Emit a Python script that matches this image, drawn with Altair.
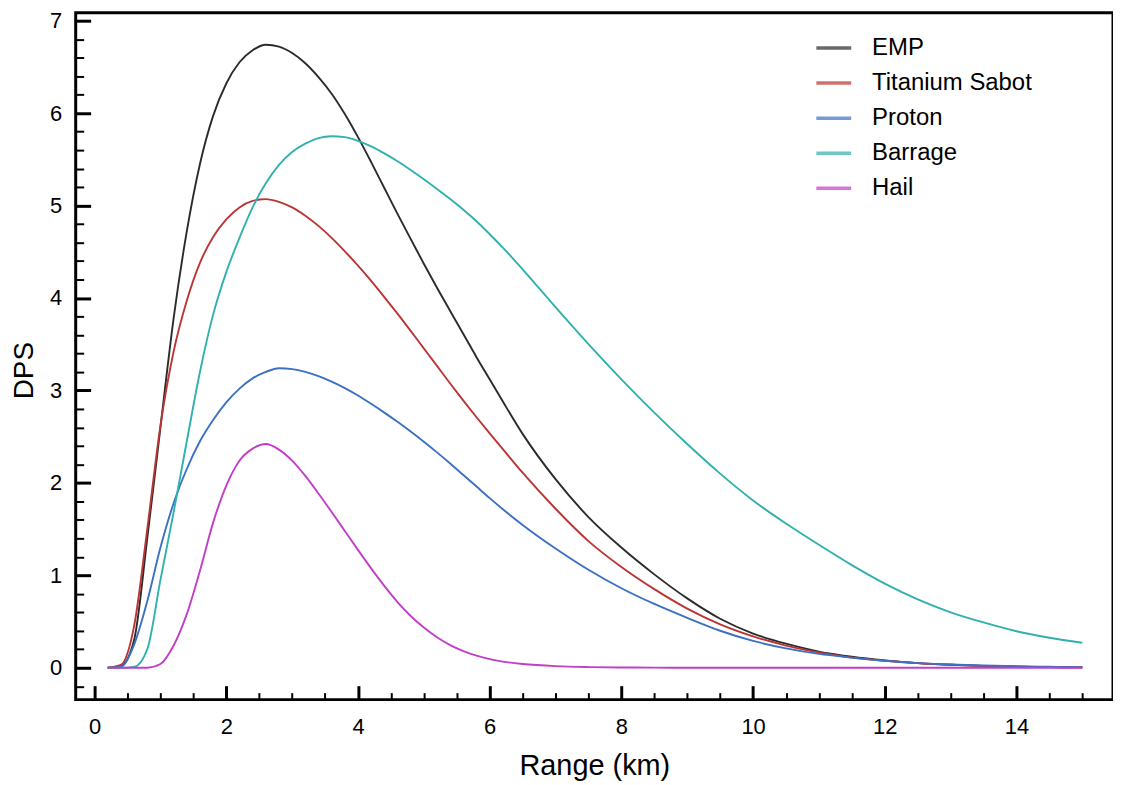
import altair as alt
import pandas as pd

# ---------------- data ----------------
range_km = [0.2, 0.4, 0.6, 0.8, 1.0, 1.2, 1.4, 1.6, 1.8, 2.0, 2.2, 2.4, 2.6, 2.8, 3.0,
            3.2, 3.4, 3.6, 3.8, 4.0, 4.2, 4.4, 4.6, 4.8, 5.0, 5.2, 5.4, 5.6, 5.8, 6.0, 6.2,
            6.5, 7.0, 7.5, 8.0, 8.5, 9.0, 9.5, 10.0, 10.5, 11.0, 11.5, 12.0, 12.5, 13.0,
            13.5, 14.0, 14.5, 15.0]

emp = [0.00, 0.02, 0.30, 1.40, 2.60, 3.78, 4.72, 5.45, 5.97, 6.32, 6.55, 6.68, 6.74, 6.72, 6.65,
       6.54, 6.39, 6.21, 5.99, 5.74, 5.47, 5.19, 4.91, 4.64, 4.37, 4.11, 3.86, 3.61, 3.36, 3.12, 2.88,
       2.53, 2.04, 1.63, 1.30, 1.01, 0.75, 0.53, 0.37, 0.26, 0.175, 0.12, 0.08, 0.05, 0.032,
       0.02, 0.012, 0.007, 0.004]

titanium_sabot = [0.00, 0.03, 0.45, 1.50, 2.62, 3.42, 3.97, 4.38, 4.66, 4.85, 4.98, 5.05, 5.07, 5.04, 4.98,
                  4.89, 4.78, 4.65, 4.505, 4.35, 4.185, 4.01, 3.83, 3.645, 3.455, 3.265, 3.075, 2.89, 2.71,
                  2.535, 2.365,
                  2.11, 1.72, 1.37, 1.09, 0.85, 0.64, 0.47, 0.34, 0.24, 0.165, 0.11, 0.075, 0.05, 0.032,
                  0.02, 0.012, 0.007, 0.004]

proton = [0.00, 0.01, 0.25, 0.72, 1.30, 1.78, 2.15, 2.45, 2.68, 2.87, 3.02, 3.13, 3.20, 3.24, 3.23,
          3.20, 3.155, 3.095, 3.025, 2.945, 2.855, 2.76, 2.66, 2.555, 2.445, 2.33, 2.21, 2.085, 1.96,
          1.835, 1.715,
          1.545, 1.29, 1.06, 0.86, 0.69, 0.54, 0.40, 0.29, 0.21, 0.15, 0.11, 0.075, 0.05, 0.035,
          0.024, 0.016, 0.01, 0.007]

barrage = [0.00, 0.00, 0.01, 0.20, 0.95, 1.68, 2.45, 3.20, 3.82, 4.28, 4.65, 4.98, 5.24, 5.44, 5.58,
           5.67, 5.73, 5.75, 5.74, 5.70, 5.64, 5.565, 5.48, 5.385, 5.285, 5.18, 5.07, 4.955, 4.83,
           4.69, 4.545,
           4.31, 3.90, 3.50, 3.12, 2.76, 2.42, 2.10, 1.81, 1.56, 1.33, 1.11, 0.91, 0.74, 0.60,
           0.49, 0.395, 0.325, 0.27]

hail = [0.00, 0.00, 0.00, 0.00, 0.04, 0.24, 0.58, 1.05, 1.57, 1.97, 2.24, 2.37, 2.42, 2.36, 2.24,
        2.075, 1.885, 1.685, 1.48, 1.275, 1.075, 0.885, 0.71, 0.56, 0.435, 0.33, 0.245, 0.18, 0.13,
        0.093, 0.066,
        0.04, 0.017, 0.007, 0.003, 0.001, 0.0, 0.0, 0.0, 0.0, 0.0, 0.0, 0.0, 0.0, 0.0,
        0.0, 0.0, 0.0, 0.0]

series_names = ["EMP", "Titanium Sabot", "Proton", "Barrage", "Hail"]
series_colors = ["#2b2b2b", "#bb3535", "#3b70c2", "#2fb1ad", "#c23ec6"]

x_major = [0, 2, 4, 6, 8, 10, 12, 14]
x_minor = [0.5, 1, 1.5, 2.5, 3, 3.5, 4.5, 5, 5.5, 6.5, 7, 7.5, 8.5, 9, 9.5,
           10.5, 11, 11.5, 12.5, 13, 13.5, 14.5, 15]
y_major = [0, 1, 2, 3, 4, 5, 6, 7]
y_minor = [-0.2, 0.2, 0.4, 0.6, 0.8, 1.2, 1.4, 1.6, 1.8, 2.2, 2.4, 2.6, 2.8,
           3.2, 3.4, 3.6, 3.8, 4.2, 4.4, 4.6, 4.8, 5.2, 5.4, 5.6, 5.8, 6.2, 6.4, 6.6, 6.8]

rows = []
for name, vals in zip(series_names, [emp, titanium_sabot, proton, barrage, hail]):
    for r, v in zip(range_km, vals):
        rows.append({"range": r, "dps": v, "weapon": name})
df = pd.DataFrame(rows)

# ---------------- layout ----------------
W, H = 1042, 690
FONT = "Liberation Sans"
xscale = alt.Scale(domain=[-0.287, 15.466], nice=False, zero=False)
yscale = alt.Scale(domain=[-0.345, 7.086], nice=False, zero=False)

base = alt.Chart(df)

lines = base.mark_line(strokeWidth=1.9, interpolate="monotone").encode(
    x=alt.X("range:Q", scale=xscale,
            axis=alt.Axis(values=x_major, orient="bottom", ticks=False, tickSize=0, domain=False,
                          grid=False, labelFontSize=22, labelFont=FONT, labelColor="black",
                          labelPadding=17, format="d", title="Range (km)", titleFont=FONT,
                          titleFontSize=29, titleFontWeight="normal", titleColor="black",
                          titleY=75, titleBaseline="alphabetic")),
    y=alt.Y("dps:Q", scale=yscale,
            axis=alt.Axis(values=y_major, orient="left", ticks=False, tickSize=0, domain=False,
                          grid=False, labelFontSize=22, labelFont=FONT, labelColor="black",
                          labelPadding=14, format="d", title="DPS", titleFont=FONT,
                          titleFontSize=28, titleFontWeight="normal", titleColor="black",
                          titleAngle=270, titleX=-43, titleY=359, titleAlign="center",
                          titleBaseline="alphabetic")),
    color=alt.Color("weapon:N",
                    scale=alt.Scale(domain=series_names, range=series_colors),
                    legend=alt.Legend(title=None, orient="none", legendX=742, legendY=16,
                                      symbolType="stroke", symbolSize=1225, symbolStrokeWidth=3.5,
                                      symbolOpacity=0.7, labelFontSize=24, labelFont=FONT,
                                      labelColor="black", labelOffset=19, rowPadding=3.2,
                                      padding=0, labelLimit=400)),
)


def tick_layer(x_axis, y_axis):
    return base.mark_point(opacity=0, size=1).encode(
        x=alt.X("range:Q", scale=xscale, axis=x_axis),
        y=alt.Y("dps:Q", scale=yscale, axis=y_axis),
    )


xmaj = tick_layer(alt.Axis(orient="top", offset=-H, values=x_major, labels=False, domain=False,
                           grid=False, tickSize=14, tickWidth=3, tickColor="black", title=None),
                  None)
xmin = tick_layer(alt.Axis(orient="top", offset=-H, values=x_minor, labels=False, domain=False,
                           grid=False, tickSize=7, tickWidth=2, tickColor="black", title=None),
                  None)
ymaj = tick_layer(None,
                  alt.Axis(orient="right", offset=-W, values=y_major, labels=False, domain=False,
                           grid=False, tickSize=15, tickWidth=3, tickColor="black", title=None))
ymin = tick_layer(None,
                  alt.Axis(orient="right", offset=-W, values=y_minor, labels=False, domain=False,
                           grid=False, tickSize=8, tickWidth=2, tickColor="black", title=None))

chart = (
    alt.layer(lines, xmaj, xmin, ymaj, ymin)
    .resolve_axis(x="independent", y="independent")
    .properties(width=W, height=H,
                autosize=alt.AutoSizeParams(type="none"),
                padding={"left": 68, "top": 3, "right": 0, "bottom": 83},
                background="white")
    .configure(font=FONT)
    .configure_view(stroke="black", strokeWidth=3)
)

chart.save("out.html", embed_options={"renderer": "svg", "actions": False})
